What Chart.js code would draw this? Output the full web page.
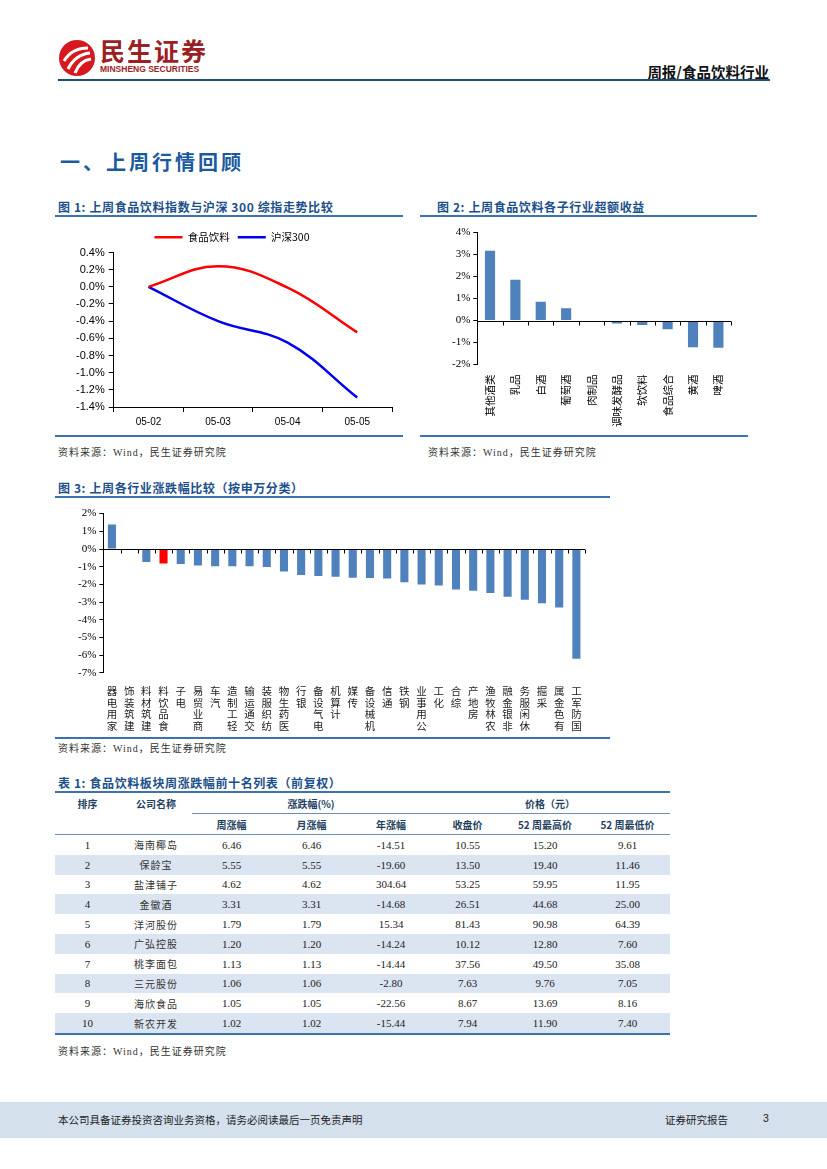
<!DOCTYPE html>
<html lang="zh-CN">
<head>
<meta charset="utf-8">
<title>周报/食品饮料行业</title>
<script src="https://cdn.jsdelivr.net/npm/chart.js@4.4.1/dist/chart.umd.min.js"></script>
<style>
  html, body { margin: 0; padding: 0; background: #fff; }
  body { width: 827px; height: 1169px; position: relative; overflow: hidden;
         font-family: "Noto Sans CJK SC", "Liberation Sans", sans-serif; color: #222; }
  .abs { position: absolute; }
  .brand { left: 100px; top: 37px; font-size: 25px; font-weight: 700; color: #9b1f24; letter-spacing: 2px; line-height: 27px; }
  .brand-en { left: 100px; top: 64px; font-size: 8.5px; font-weight: 700; color: #9b1f24; font-family: "Liberation Sans", sans-serif; }
  .report { right: 58px; top: 61px; font-size: 14.5px; font-weight: 700; color: #111; }
  .head-rule { left: 58px; top: 79px; width: 712px; height: 2px; background: #1f4e79; }
  .section { left: 60px; top: 147px; font-size: 20px; font-weight: 700; color: #1a5aa0; letter-spacing: 3px; }
  .fig-title { font-size: 12px; font-weight: 700; color: #1b4f8a; white-space: nowrap; letter-spacing: 0.6px; }
  .rule { height: 2px; background: #3b73b0; }
  .src { font-size: 10px; color: #333; letter-spacing: 1px; font-family: "Liberation Serif", "Noto Sans CJK SC", serif; }
  .box { position: absolute; }
  table.top10 { position: absolute; left: 55px; top: 791px; width: 615px; border-collapse: collapse;
                table-layout: fixed; border-top: 2px solid #3b73b0; border-bottom: 2px solid #3b73b0; }
  .top10 th { font-size: 10px; font-weight: 700; color: #243f60; height: 20px; padding: 0; text-align: center; }
  .top10 th.grp { border-bottom: 1px solid #6d8fbf; }
  .top10 tr.sub th { border-bottom: 1px solid #6d8fbf; }
  .top10 td { height: 19.8px; padding: 0; text-align: center; font-size: 11px;
              font-family: "Liberation Serif", serif; color: #222; }
  .top10 td.nm { font-family: "Noto Sans CJK SC", sans-serif; font-size: 10px; color: #333; letter-spacing: 1px; }
  .top10 tr.alt td { background: #dbe5f1; }
  .footer { left: 0; top: 1102px; width: 827px; height: 36px; background: #d5e0ed; }
  .foot-l { left: 58px; top: 1112px; font-size: 10.5px; color: #222; }
  .foot-r { left: 665px; top: 1112px; font-size: 10.5px; color: #222; }
  .foot-n { left: 763px; top: 1112px; font-size: 10.5px; color: #222; font-family: "Liberation Sans", sans-serif; }
</style>
</head>
<body>

<svg class="abs" style="left:58px;top:39px" width="38" height="38" viewBox="0 0 38 38">
  <circle cx="19" cy="19" r="18" fill="#d7191f"/>
  <path d="M6 22 C12 12, 20 9, 30 9" stroke="#fff" stroke-width="3" fill="none"/>
  <path d="M10 30 C15 20, 22 15, 32 14" stroke="#fff" stroke-width="3" fill="none"/>
  <path d="M17 34 C20 26, 25 21, 33 20" stroke="#fff" stroke-width="3" fill="none"/>
</svg>
<div class="abs brand">民生证券</div>
<div class="abs brand-en">MINSHENG SECURITIES</div>
<div class="abs report">周报/食品饮料行业</div>
<div class="abs head-rule"></div>

<div class="abs section">一、上周行情回顾</div>

<div class="abs fig-title" style="left:58px;top:198px">图 1: 上周食品饮料指数与沪深 300 综指走势比较</div>
<div class="abs rule" style="left:55px;top:215px;width:348px"></div>
<div class="box" style="left:58px;top:224px;width:342px;height:208px"><canvas id="lineChart"></canvas></div>
<div class="abs rule" style="left:55px;top:435px;width:348px"></div>
<div class="abs src" style="left:58px;top:444px">资料来源：Wind，民生证券研究院</div>

<div class="abs fig-title" style="left:437px;top:198px">图 2: 上周食品饮料各子行业超额收益</div>
<div class="abs rule" style="left:420px;top:215px;width:337px"></div>
<div class="box" style="left:425px;top:223px;width:308px;height:206px"><canvas id="subChart"></canvas></div>
<div class="abs rule" style="left:420px;top:435px;width:328px"></div>
<div class="abs src" style="left:428px;top:444px">资料来源：Wind，民生证券研究院</div>

<div class="abs fig-title" style="left:58px;top:479px">图 3: 上周各行业涨跌幅比较（按申万分类）</div>
<div class="abs rule" style="left:55px;top:496px;width:555px"></div>
<div class="box" style="left:58px;top:504px;width:535px;height:232px"><canvas id="indChart"></canvas></div>
<div class="abs rule" style="left:55px;top:737px;width:555px"></div>
<div class="abs src" style="left:58px;top:740px">资料来源：Wind，民生证券研究院</div>

<div class="abs fig-title" style="left:58px;top:774px">表 1: 食品饮料板块周涨跌幅前十名列表（前复权）</div>
<table class="top10" id="top10">
  <colgroup>
    <col style="width:65px"><col style="width:72px"><col style="width:79px"><col style="width:81px">
    <col style="width:78px"><col style="width:75px"><col style="width:80px"><col style="width:85px">
  </colgroup>
  <thead>
    <tr><th>排序</th><th>公司名称</th><th class="grp" colspan="3">涨跌幅(%)</th><th class="grp" colspan="3">价格（元）</th></tr>
    <tr class="sub"><th></th><th></th><th>周涨幅</th><th>月涨幅</th><th>年涨幅</th><th>收盘价</th><th>52 周最高价</th><th>52 周最低价</th></tr>
  </thead>
  <tbody></tbody>
</table>
<div class="abs src" style="left:58px;top:1043px">资料来源：Wind，民生证券研究院</div>

<div class="abs footer"></div>
<div class="abs foot-l">本公司具备证券投资咨询业务资格，请务必阅读最后一页免责声明</div>
<div class="abs foot-r">证券研究报告</div>
<div class="abs foot-n">3</div>

<script>
// 图1: 指数走势 (%)
const lineDates = ['05-02', '05-03', '05-04', '05-05'];
const foodIndex = [0.00, 0.24, -0.01, -0.53];
const hs300Index = [0.00, -0.40, -0.65, -1.29];

// 图2: 子行业超额收益 (%)
const subIndustries = ['其他酒类', '乳品', '白酒', '葡萄酒', '肉制品', '调味发酵品', '软饮料', '食品综合', '黄酒', '啤酒'];
const subExcess = [3.18, 1.86, 0.85, 0.56, 0.00, -0.14, -0.20, -0.40, -1.22, -1.24];

// 图3: 申万行业涨跌幅 (%)
const industries = ['家用电器', '建筑装饰', '建筑材料', '食品饮料', '电子', '商业贸易', '汽车', '轻工制造', '交通运输',
  '纺织服装', '医药生物', '银行', '电气设备', '计算机', '传媒', '机械设备', '通信', '钢铁', '公用事业', '化工',
  '综合', '房地产', '农林牧渔', '非银金融', '休闲服务', '采掘', '有色金属', '国防军工'];
const industryChange = [1.38, 0.03, -0.73, -0.82, -0.84, -0.93, -0.97, -0.98, -0.98, -1.02, -1.27, -1.47, -1.53,
  -1.57, -1.62, -1.64, -1.66, -1.88, -2.00, -2.06, -2.29, -2.36, -2.49, -2.69, -2.87, -3.07, -3.30, -6.20];
const highlight = '食品饮料';

// 表1
const rankNames = ['海南椰岛', '保龄宝', '盐津铺子', '金徽酒', '洋河股份', '广弘控股', '桃李面包', '三元股份', '海欣食品', '新农开发'];
const weekChg = ['6.46', '5.55', '4.62', '3.31', '1.79', '1.20', '1.13', '1.06', '1.05', '1.02'];
const monthChg = ['6.46', '5.55', '4.62', '3.31', '1.79', '1.20', '1.13', '1.06', '1.05', '1.02'];
const yearChg = ['-14.51', '-19.60', '304.64', '-14.68', '15.34', '-14.24', '-14.44', '-2.80', '-22.56', '-15.44'];
const closePx = ['10.55', '13.50', '53.25', '26.51', '81.43', '10.12', '37.56', '7.63', '8.67', '7.94'];
const high52 = ['15.20', '19.40', '59.95', '44.68', '90.98', '12.80', '49.50', '9.76', '13.69', '11.90'];
const low52 = ['9.61', '11.46', '11.95', '25.00', '64.39', '7.60', '35.08', '7.05', '8.16', '7.40'];

const barBlue = '#4f81bd';
const serif = "'Liberation Serif', 'Times New Roman', serif";
const cjk = "'Noto Sans CJK SC', sans-serif";

Chart.defaults.color = '#000';
Chart.defaults.animation = false;

// zero axis with tick marks between categories, drawn over the bars
const zeroAxis = {
  id: 'zeroAxis',
  afterDatasetsDraw(chart) {
    const { ctx, scales: { x, y } } = chart;
    const y0 = Math.round(y.getPixelForValue(0)) + 0.5;
    const n = chart.data.labels.length;
    ctx.save();
    ctx.strokeStyle = '#000';
    ctx.lineWidth = 1;
    ctx.beginPath();
    ctx.moveTo(x.left, y0);
    ctx.lineTo(x.right, y0);
    for (let i = 0; i <= n; i++) {
      const px = Math.round(x.getPixelForValue(i - 0.5)) + 0.5;
      ctx.moveTo(px, y0);
      ctx.lineTo(px, y0 + 4);
    }
    ctx.stroke();
    ctx.restore();
  }
};

function pctLabel(digits) {
  return (v) => {
    const r = Math.abs(v) < 1e-9 ? 0 : v;
    return r.toFixed(digits) + '%';
  };
}

function initLineChart() {
  new Chart(document.getElementById('lineChart'), {
    type: 'line',
    data: {
      labels: lineDates,
      datasets: [
        { label: '食品饮料', data: foodIndex, borderColor: '#ff0000', backgroundColor: '#ff0000', borderWidth: 2.5, pointRadius: 0, tension: 0.4 },
        { label: '沪深300', data: hs300Index, borderColor: '#0000ee', backgroundColor: '#0000ee', borderWidth: 2.5, pointRadius: 0, tension: 0.4 }
      ]
    },
    options: {
      responsive: true,
      maintainAspectRatio: false,
      layout: { padding: { left: 14, right: 8, top: 0, bottom: 0 } },
      plugins: {
        legend: {
          position: 'top',
          labels: {
            usePointStyle: true, pointStyle: 'line', pointStyleWidth: 28,
            font: { family: cjk, size: 10.5 }, color: '#000', padding: 8, boxHeight: 2
          }
        },
        tooltip: { enabled: false }
      },
      scales: {
        x: {
          offset: true,
          grid: { offset: true, drawOnChartArea: false, color: '#000', tickLength: 5 },
          border: { color: '#000' },
          ticks: { font: { family: "'Liberation Sans', sans-serif", size: 10 }, padding: 4 }
        },
        y: {
          min: -1.4, max: 0.4,
          ticks: { stepSize: 0.2, callback: pctLabel(1), font: { family: "'Liberation Sans', sans-serif", size: 11 }, padding: 4 },
          grid: { drawOnChartArea: false, color: '#000', tickLength: 5 },
          border: { color: '#000' }
        }
      }
    }
  });
}

function initSubChart() {
  new Chart(document.getElementById('subChart'), {
    type: 'bar',
    data: {
      labels: subIndustries,
      datasets: [{ data: subExcess, backgroundColor: barBlue, barPercentage: 0.4, categoryPercentage: 1 }]
    },
    options: {
      responsive: true,
      maintainAspectRatio: false,
      layout: { padding: { left: 24, right: 0, top: 5, bottom: 0 } },
      plugins: { legend: { display: false }, tooltip: { enabled: false } },
      scales: {
        x: {
          grid: { display: false },
          border: { display: false },
          ticks: { minRotation: 90, maxRotation: 90, autoSkip: false, font: { family: cjk, size: 10.5 }, padding: 2 }
        },
        y: {
          min: -2, max: 4,
          ticks: { stepSize: 1, callback: pctLabel(0), font: { family: serif, size: 11 }, padding: 3 },
          grid: { drawOnChartArea: false, color: '#000', tickLength: 4 },
          border: { color: '#000' }
        }
      }
    },
    plugins: [zeroAxis]
  });
}

function initIndustryChart() {
  new Chart(document.getElementById('indChart'), {
    type: 'bar',
    data: {
      // stacked upright characters, read bottom to top
      labels: industries.map(s => [...s].reverse()),
      datasets: [{
        data: industryChange,
        backgroundColor: industries.map(s => s === highlight ? '#ff0000' : barBlue),
        barPercentage: 0.47, categoryPercentage: 1
      }]
    },
    options: {
      responsive: true,
      maintainAspectRatio: false,
      layout: { padding: { left: 17, right: 8, top: 4, bottom: 0 } },
      plugins: { legend: { display: false }, tooltip: { enabled: false } },
      scales: {
        x: {
          grid: { display: false },
          border: { display: false },
          ticks: { maxRotation: 0, minRotation: 0, autoSkip: false, font: { family: cjk, size: 10.5, lineHeight: 1.12 }, color: '#222', padding: 4 }
        },
        y: {
          min: -7, max: 2,
          ticks: { stepSize: 1, callback: pctLabel(0), font: { family: serif, size: 11 }, padding: 3 },
          grid: { drawOnChartArea: false, color: '#000', tickLength: 4 },
          border: { color: '#000' }
        }
      }
    },
    plugins: [zeroAxis]
  });
}

function initTable() {
  const body = document.querySelector('#top10 tbody');
  rankNames.forEach((name, i) => {
    const tr = document.createElement('tr');
    if (i % 2 === 1) tr.className = 'alt';
    const cells = [String(i + 1), name, weekChg[i], monthChg[i], yearChg[i], closePx[i], high52[i], low52[i]];
    cells.forEach((txt, j) => {
      const td = document.createElement('td');
      if (j === 1) td.className = 'nm';
      td.textContent = txt;
      tr.appendChild(td);
    });
    body.appendChild(tr);
  });
}

initLineChart();
initSubChart();
initIndustryChart();
initTable();
</script>
</body>
</html>
